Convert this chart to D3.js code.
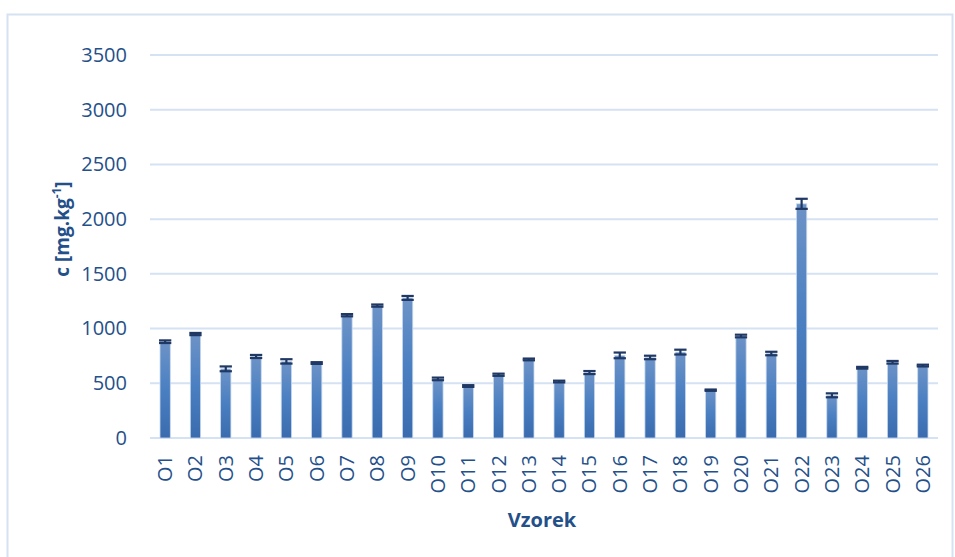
<!DOCTYPE html>
<html><head><meta charset="utf-8">
<script src="https://cdn.jsdelivr.net/npm/d3@7"></script>
<style>body{margin:0;background:#fff}svg{display:block}</style>
</head><body>
<script>
const categories = ["O1","O2","O3","O4","O5","O6","O7","O8","O9","O10","O11","O12","O13","O14","O15","O16","O17","O18","O19","O20","O21","O22","O23","O24","O25","O26"];
const values = [880,950,632,745,700,685,1122,1210,1280,540,475,578,718,516,598,755,736,785,437,932,772,2140,390,642,692,662];
const errors = [12,10,22,14,20,8,10,10,18,12,8,10,8,8,14,26,16,22,6,12,16,46,18,8,12,8];
const yTicks = [0,500,1000,1500,2000,2500,3000,3500];

const W = 955, H = 557;
const svg = d3.select("body").append("svg").attr("width", W).attr("height", H);
const font = "'Open Sans', sans-serif";
const txt = "#24508a";

const defs = svg.append("defs");
const g = defs.append("linearGradient").attr("id","bg").attr("x1",0).attr("y1",0).attr("x2",0).attr("y2",1);
g.append("stop").attr("offset","0%").attr("stop-color","#6d93c7");
g.append("stop").attr("offset","50%").attr("stop-color","#4a7fc2");
g.append("stop").attr("offset","100%").attr("stop-color","#3a6baf");

svg.append("rect").attr("x",7.5).attr("y",14.5).attr("width",945).attr("height",560)
  .attr("fill","#fff").attr("stroke","#d6e2f2").attr("stroke-width",2);

const x = d3.scaleBand().domain(categories).range([150, 938]).paddingInner(0.66).paddingOuter(0.33);
const y = d3.scaleLinear().domain([0,3500]).range([438, 55]);

// gridlines
svg.append("g").selectAll("line").data(yTicks).join("line")
  .attr("x1",150).attr("x2",938).attr("y1",d=>y(d)).attr("y2",d=>y(d))
  .attr("stroke","#d5e2f3").attr("stroke-width",2);

// y axis labels
const yAxis = d3.axisLeft(y).tickValues(yTicks).tickFormat(d3.format("d")).tickSize(0).tickPadding(0);
const ya = svg.append("g").attr("transform","translate(127,0)").call(yAxis);
ya.select(".domain").remove();
ya.selectAll("text").attr("font-family",font).attr("font-size",20).attr("fill",txt);

// bars
svg.append("g").selectAll("rect").data(values).join("rect")
  .attr("x",(d,i)=>x(categories[i])).attr("width",x.bandwidth())
  .attr("y",d=>y(d)).attr("height",d=>y(0)-y(d))
  .attr("fill","url(#bg)").attr("stroke","#c9d9ee").attr("stroke-width",0.8);

// error bars
const eb = svg.append("g").attr("stroke","#1f3864").attr("stroke-width",2.2);
values.forEach((v,i)=>{
  const cx = x(categories[i]) + x.bandwidth()/2;
  const hw = x.bandwidth()/2 + 1;
  eb.append("line").attr("x1",cx).attr("x2",cx).attr("y1",y(v+errors[i])).attr("y2",y(v-errors[i]));
  eb.append("line").attr("x1",cx-hw).attr("x2",cx+hw).attr("y1",y(v+errors[i])).attr("y2",y(v+errors[i]));
  eb.append("line").attr("x1",cx-hw).attr("x2",cx+hw).attr("y1",y(v-errors[i])).attr("y2",y(v-errors[i]));
});

// x axis labels
const xAxis = d3.axisBottom(x).tickSize(0).tickPadding(0);
const xa = svg.append("g").attr("transform","translate(0,438)").call(xAxis);
xa.select(".domain").remove();
xa.selectAll("text").attr("font-family",font).attr("font-size",20).attr("fill",txt)
  .attr("transform","rotate(-90)").attr("text-anchor","end").attr("dy","0.35em").attr("x",-17).attr("y",0);

// axis titles
svg.append("text").attr("x",542).attr("y",527).attr("text-anchor","middle")
  .attr("font-family",font).attr("font-weight","bold").attr("font-size",20).attr("fill",txt).text("Vzorek");
const yt = svg.append("text").attr("transform","translate(69,229) rotate(-90)").attr("text-anchor","middle")
  .attr("font-family",font).attr("font-weight","bold").attr("font-size",19).attr("fill",txt);
yt.append("tspan").text("c [mg.kg");
yt.append("tspan").attr("font-size",12).attr("dy",-8).text("-1");
yt.append("tspan").attr("dy",8).text("]");
</script>
</body></html>
